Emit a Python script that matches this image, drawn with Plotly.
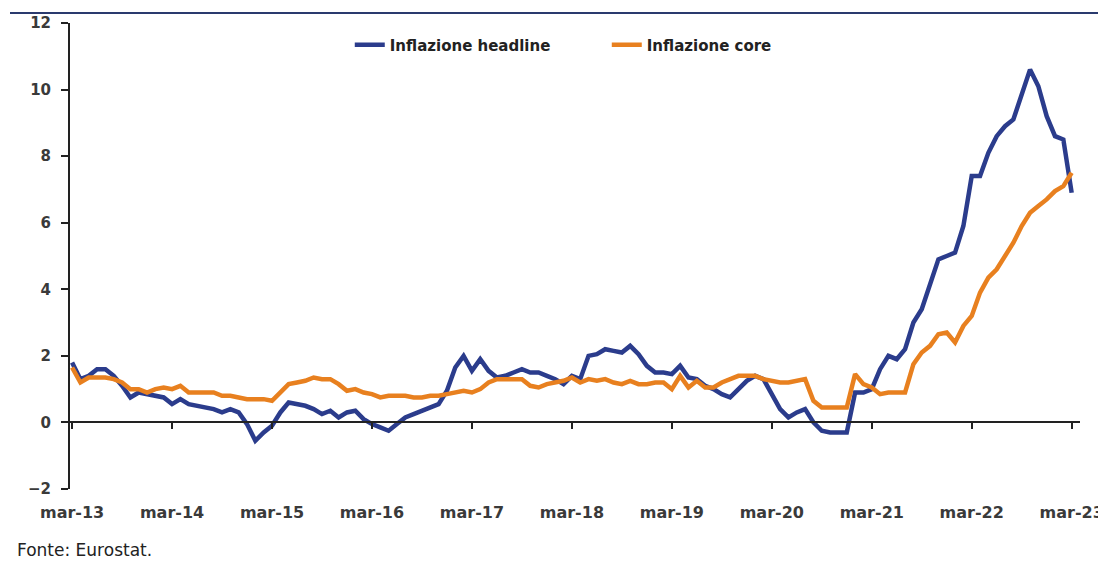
import plotly.graph_objects as go

# months from mar-13 (index 0) to mar-23 (index 120)
month_index = list(range(121))

tick_positions = [0, 12, 24, 36, 48, 60, 72, 84, 96, 108, 120]
tick_labels = ["mar-13", "mar-14", "mar-15", "mar-16", "mar-17", "mar-18",
               "mar-19", "mar-20", "mar-21", "mar-22", "mar-23"]

headline = [
    1.8, 1.3, 1.4, 1.6, 1.6, 1.4, 1.1, 0.75, 0.9, 0.85, 0.8, 0.75,
    0.55, 0.7, 0.55, 0.5, 0.45, 0.4, 0.3, 0.4, 0.3, -0.05, -0.55, -0.3,
    -0.1, 0.3, 0.6, 0.55, 0.5, 0.4, 0.25, 0.35, 0.15, 0.3, 0.35, 0.1,
    -0.05, -0.15, -0.25, -0.05, 0.15, 0.25, 0.35, 0.45, 0.55, 0.95, 1.65, 2.0,
    1.55, 1.9, 1.55, 1.35, 1.4, 1.5, 1.6, 1.5, 1.5, 1.4, 1.3, 1.15,
    1.4, 1.3, 2.0, 2.05, 2.2, 2.15, 2.1, 2.3, 2.05, 1.7, 1.5, 1.5,
    1.45, 1.7, 1.35, 1.3, 1.1, 1.0, 0.85, 0.75, 1.0, 1.25, 1.4, 1.3,
    0.85, 0.4, 0.15, 0.3, 0.4, 0.0, -0.25, -0.3, -0.3, -0.3, 0.9, 0.9,
    1.0, 1.6, 2.0, 1.9, 2.2, 3.0, 3.4, 4.1, 4.9, 5.0, 5.1, 5.9,
    7.4, 7.4, 8.1, 8.6, 8.9, 9.1, 9.9, 10.6, 10.1, 9.2, 8.6, 8.5,
    6.9,
]

core = [
    1.65, 1.2, 1.35, 1.35, 1.35, 1.3, 1.2, 1.0, 1.0, 0.9, 1.0, 1.05,
    1.0, 1.1, 0.9, 0.9, 0.9, 0.9, 0.8, 0.8, 0.75, 0.7, 0.7, 0.7,
    0.65, 0.9, 1.15, 1.2, 1.25, 1.35, 1.3, 1.3, 1.15, 0.95, 1.0, 0.9,
    0.85, 0.75, 0.8, 0.8, 0.8, 0.75, 0.75, 0.8, 0.8, 0.85, 0.9, 0.95,
    0.9, 1.0, 1.2, 1.3, 1.3, 1.3, 1.3, 1.1, 1.05, 1.15, 1.2, 1.25,
    1.35, 1.2, 1.3, 1.25, 1.3, 1.2, 1.15, 1.25, 1.15, 1.15, 1.2, 1.2,
    1.0, 1.4, 1.05, 1.25, 1.05, 1.05, 1.2, 1.3, 1.4, 1.4, 1.4, 1.3,
    1.25, 1.2, 1.2, 1.25, 1.3, 0.65, 0.45, 0.45, 0.45, 0.45, 1.45, 1.15,
    1.05, 0.85, 0.9, 0.9, 0.9, 1.75, 2.1, 2.3, 2.65, 2.7, 2.4, 2.9,
    3.2, 3.9, 4.35, 4.6, 5.0, 5.4, 5.9, 6.3, 6.5, 6.7, 6.95, 7.1,
    7.5,
]

y_ticks = [-2, 0, 2, 4, 6, 8, 10, 12]

BLUE = "#2B3C8C"
ORANGE = "#E8801F"
TEXT = "#3a3a3a"
FONT = "DejaVu Sans, Verdana, sans-serif"

fig = go.Figure()
fig.add_trace(go.Scatter(x=month_index, y=headline, mode="lines",
                         name="Inflazione headline",
                         line=dict(color=BLUE, width=4.5)))
fig.add_trace(go.Scatter(x=month_index, y=core, mode="lines",
                         name="Inflazione core", xaxis="x2",
                         line=dict(color=ORANGE, width=4.5)))

# the page body adds an 8px offset, so the figure starts at (8, 8)
fig.update_layout(
    width=1098, height=554,
    margin=dict(l=62, r=26, t=15, b=73),
    paper_bgcolor="white", plot_bgcolor="white",
    font=dict(family=FONT, size=12, color=TEXT),
    showlegend=True,
    legend=dict(orientation="h", x=0.277, y=0.953, xanchor="left", yanchor="middle",
                bgcolor="rgba(0,0,0,0)",
                font=dict(family=FONT, size=15, color="#222", weight="bold"),
                entrywidth=212, entrywidthmode="pixels",
                itemwidth=30, tracegroupgap=0),
    xaxis=dict(
        range=[-0.25, 121], showgrid=False, zeroline=False, showline=False,
        automargin=False,
        tickmode="array", tickvals=tick_positions, ticktext=tick_labels,
        ticks="outside", ticklen=9, tickcolor="rgba(0,0,0,0)",
        tickfont=dict(family=FONT, size=16, color=TEXT, weight="bold"), anchor="y",
    ),
    xaxis2=dict(
        range=[-0.25, 121], matches="x", overlaying="x", anchor="free",
        position=2 / 14, showgrid=False, zeroline=False, automargin=False,
        showline=True, linecolor="#222", linewidth=2,
        tickmode="array", tickvals=tick_positions, showticklabels=False,
        ticks="outside", ticklen=6, tickwidth=2, tickcolor="#222",
    ),
    yaxis=dict(
        range=[-2, 12], tickvals=y_ticks, showgrid=False, zeroline=False,
        showline=True, linecolor="#222", linewidth=2, automargin=False,
        ticks="outside", ticklen=7, tickwidth=2, tickcolor="#222",
        tickfont=dict(family=FONT, size=15, color=TEXT, weight="bold"),
        ticklabelstandoff=7,
    ),
)

# top rule
fig.add_shape(type="line", xref="paper", yref="paper",
              x0=-60 / 1010, x1=1036 / 1010, y0=(489 - 13) / 466, y1=(489 - 13) / 466,
              line=dict(color="#2A3A6E", width=2))

fig.add_annotation(text="Fonte: Eurostat.", xref="paper", yref="paper",
                   x=-55 / 1010, y=-(550 - 489) / 466, xanchor="left", yanchor="middle",
                   showarrow=False,
                   font=dict(family=FONT, size=17, color="#222"))

fig.write_html("out.html")
